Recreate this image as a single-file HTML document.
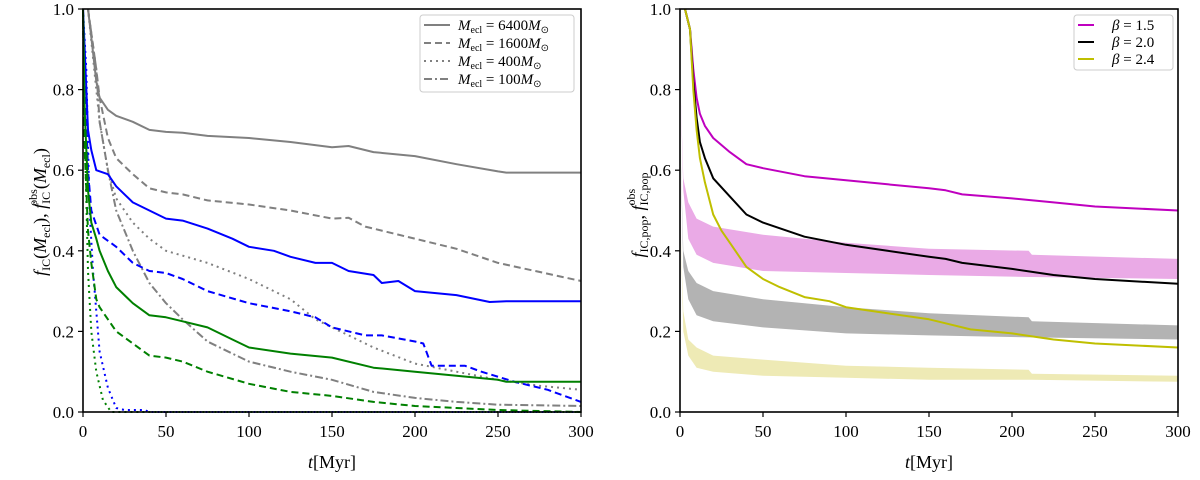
<!DOCTYPE html>
<html><head><meta charset="utf-8"><style>
html,body{margin:0;padding:0;background:#fff;}
svg{display:block;font-family:"Liberation Serif",serif;}
</style></head><body>
<svg id="chart" width="1200" height="480" viewBox="0 0 1200 480"></svg>
<script>
const NS="http://www.w3.org/2000/svg";
const svg=document.getElementById('chart');
// ---- left panel data ----
const tGraySolid=[3,5,8,10,15,20,30,40,50,60,75,100,125,150,160,175,200,225,250,255,300];
const yGraySolid=[1.0,0.93,0.82,0.78,0.75,0.735,0.72,0.70,0.695,0.693,0.685,0.68,0.67,0.657,0.66,0.645,0.635,0.615,0.597,0.594,0.594];
const tGrayDash=[3,8,10,15,20,30,40,50,60,75,100,125,150,160,170,200,225,250,300];
const yGrayDash=[1.0,0.85,0.78,0.68,0.63,0.59,0.555,0.545,0.54,0.525,0.515,0.5,0.48,0.482,0.46,0.43,0.405,0.37,0.325];
const tGrayDot=[3,8,10,15,20,30,40,50,75,100,125,140,160,175,200,225,250,275,300];
const yGrayDot=[1.0,0.8,0.72,0.6,0.53,0.47,0.43,0.40,0.37,0.33,0.28,0.23,0.19,0.16,0.12,0.10,0.08,0.065,0.055];
const tGrayDashDot=[3,8,10,15,20,30,40,50,60,75,90,100,125,150,175,200,225,250,300];
const yGrayDashDot=[1.0,0.85,0.72,0.6,0.5,0.4,0.32,0.27,0.23,0.175,0.145,0.125,0.1,0.08,0.05,0.035,0.025,0.018,0.015];
const tBlueSolid=[0,1,3,5,8,15,20,30,40,50,60,75,90,100,115,125,140,150,160,175,180,190,200,225,245,255,300];
const yBlueSolid=[1.0,0.9,0.7,0.65,0.6,0.59,0.56,0.52,0.5,0.48,0.475,0.455,0.43,0.41,0.4,0.385,0.37,0.37,0.35,0.34,0.32,0.325,0.3,0.29,0.273,0.275,0.275];
const tBlueDash=[0,1,3,5,10,20,30,40,50,60,75,100,125,140,150,170,180,200,205,210,230,240,260,280,290,300];
const yBlueDash=[1.0,0.85,0.6,0.5,0.44,0.41,0.37,0.35,0.345,0.33,0.3,0.27,0.25,0.235,0.21,0.19,0.19,0.175,0.17,0.115,0.115,0.1,0.075,0.055,0.04,0.025];
const tBlueDot=[0,2,4,6,8,10,15,20,25,37,40,300];
const yBlueDot=[1.0,0.85,0.5,0.35,0.25,0.15,0.06,0.01,0.005,0.005,0,0];
const tGreenSolid=[0,1,3,5,8,10,15,20,30,40,50,60,75,90,100,125,150,175,200,225,250,255,300];
const yGreenSolid=[1.0,0.75,0.55,0.47,0.43,0.4,0.35,0.31,0.27,0.24,0.235,0.225,0.21,0.18,0.16,0.145,0.135,0.11,0.1,0.09,0.08,0.075,0.075];
const tGreenDash=[0,1,3,5,8,10,15,20,30,40,50,60,75,100,125,150,175,200,225,250,300];
const yGreenDash=[1.0,0.65,0.45,0.37,0.28,0.26,0.23,0.2,0.17,0.14,0.135,0.125,0.1,0.07,0.05,0.04,0.025,0.015,0.01,0.005,0.0];
const tGreenDot=[0,1,3,5,8,12,17,300];
const yGreenDot=[1.0,0.7,0.35,0.2,0.1,0.03,0,0];
// ---- right panel data ----
const tMag=[3,6,8,10,12,15,20,30,40,50,75,100,125,150,160,170,200,225,250,300];
const yMag=[1.0,0.95,0.85,0.78,0.74,0.71,0.68,0.645,0.615,0.605,0.585,0.575,0.565,0.555,0.55,0.54,0.53,0.52,0.51,0.5];
const tBlack=[3,6,8,10,12,15,20,30,40,50,75,100,125,150,160,170,200,225,250,300];
const yBlack=[1.0,0.95,0.82,0.73,0.67,0.63,0.58,0.535,0.49,0.47,0.435,0.415,0.4,0.385,0.38,0.37,0.355,0.34,0.33,0.318];
const tYel=[3,6,8,10,12,15,20,25,30,40,50,60,75,90,100,125,150,160,175,200,225,250,300];
const yYel=[1.0,0.95,0.8,0.7,0.63,0.57,0.49,0.45,0.42,0.36,0.33,0.31,0.285,0.275,0.26,0.245,0.23,0.22,0.205,0.195,0.18,0.17,0.16];
const tBand=[0,2,5,10,20,50,100,150,210,212,300];
const magHi=[0.85,0.58,0.52,0.48,0.46,0.44,0.42,0.405,0.40,0.39,0.38];
const magLo=[0.85,0.55,0.43,0.39,0.37,0.35,0.345,0.34,0.335,0.335,0.33];
const grayHi=[0.7,0.40,0.35,0.32,0.30,0.28,0.26,0.245,0.235,0.225,0.215];
const grayLo=[0.7,0.36,0.28,0.24,0.225,0.21,0.195,0.19,0.185,0.185,0.18];
const yelHi=[0.5,0.25,0.18,0.16,0.14,0.13,0.115,0.11,0.105,0.095,0.09];
const yelLo=[0.5,0.20,0.14,0.11,0.10,0.09,0.085,0.08,0.08,0.08,0.075];
const xTicks=[0,50,100,150,200,250,300];
const yTicks=[0,0.2,0.4,0.6,0.8,1.0];

function mk(tag,attrs,parent){const e=document.createElementNS(NS,tag);for(const k in attrs)e.setAttribute(k,attrs[k]);(parent||svg).appendChild(e);return e;}
function axes(x0,x1,y0,y1){return {x:t=>x0+(x1-x0)*t/300,y:v=>y1-(y1-y0)*v,x0,x1,y0,y1};}
const L=axes(83,581,9,412), R=axes(680,1178,9,412);

function line(ax,ts,vs,color,dash,name,w){
  const d=ts.map((t,i)=>(i?'L':'M')+ax.x(t).toFixed(1)+' '+ax.y(vs[i]).toFixed(1)).join(' ');
  const p=mk('path',{d,fill:'none',stroke:color,'stroke-width':w||2,'stroke-dasharray':dash||'none','stroke-linejoin':'round'});
  
  
}
function band(ax,hi,lo,color,name){
  let d=tBand.map((t,i)=>(i?'L':'M')+ax.x(t).toFixed(1)+' '+ax.y(hi[i]).toFixed(1)).join(' ');
  for(let i=tBand.length-1;i>=0;i--)d+=' L'+ax.x(tBand[i]).toFixed(1)+' '+ax.y(lo[i]).toFixed(1);
  const p=mk('path',{d:d+' Z',fill:color,stroke:'none'});
  
  
}
function frame(ax,prefix){
  const g=mk('g',{});
  
  
  mk('rect',{x:ax.x0,y:ax.y0,width:ax.x1-ax.x0,height:ax.y1-ax.y0,fill:'none',stroke:'#000','stroke-width':1.6},g);
  xTicks.forEach(t=>{
    mk('line',{x1:ax.x(t),x2:ax.x(t),y1:ax.y1,y2:ax.y1+5,stroke:'#000','stroke-width':1.2},g);
    const tx=mk('text',{x:ax.x(t),y:ax.y1+25,'text-anchor':'middle','font-size':17},g);tx.textContent=t;
    
    
  });
  yTicks.forEach(v=>{
    mk('line',{x1:ax.x0-5,x2:ax.x0,y1:ax.y(v),y2:ax.y(v),stroke:'#000','stroke-width':1.2},g);
    const tx=mk('text',{x:ax.x0-9,y:ax.y(v)+6,'text-anchor':'end','font-size':17},g);tx.textContent=v.toFixed(1);
    
    
  });
  const xl=mk('text',{x:(ax.x0+ax.x1)/2,y:ax.y1+56,'text-anchor':'middle','font-size':18},g);
  xl.innerHTML='<tspan font-style="italic">t</tspan>[Myr]';
  
  
}
// left
line(L,tGraySolid,yGraySolid,'#808080','', 'gray-6400-line');
line(L,tGrayDash,yGrayDash,'#808080','7 4','gray-1600-line');
line(L,tGrayDot,yGrayDot,'#808080','2 4','gray-400-line');
line(L,tGrayDashDot,yGrayDashDot,'#808080','8 3 2 3','gray-100-line');
line(L,tBlueSolid,yBlueSolid,'#0000ff','','blue-solid-line');
line(L,tBlueDash,yBlueDash,'#0000ff','7 4','blue-dashed-line');
line(L,tBlueDot,yBlueDot,'#0000ff','2 4','blue-dotted-line');
line(L,tGreenSolid,yGreenSolid,'#008000','','green-solid-line');
line(L,tGreenDash,yGreenDash,'#008000','7 4','green-dashed-line');
line(L,tGreenDot,yGreenDot,'#008000','2 4','green-dotted-line');
frame(L,'left');
// right
band(R,magHi,magLo,'#eaaae6','magenta-band');
band(R,grayHi,grayLo,'#b3b3b3','gray-band');
band(R,yelHi,yelLo,'#eeeab5','yellow-band');
line(R,tMag,yMag,'#bf00bf','','beta-1.5-line');
line(R,tBlack,yBlack,'#000000','','beta-2.0-line');
line(R,tYel,yYel,'#bfbf00','','beta-2.4-line');
frame(R,'right');
</script>
<svg style="position:absolute;left:0;top:0" width="1200" height="480" font-family="Liberation Serif,serif">
  <g>
    <text transform="translate(46,212) rotate(-90)" text-anchor="middle" font-size="18"><tspan font-style="italic">f</tspan><tspan font-size="12" dy="4">IC</tspan><tspan dy="-4">(</tspan><tspan font-style="italic">M</tspan><tspan font-size="12" dy="4">ecl</tspan><tspan dy="-4">), </tspan><tspan font-style="italic">f</tspan><tspan font-size="12" dy="4">IC</tspan><tspan font-size="12" dy="-13" dx="-14">obs</tspan><tspan dy="9">(</tspan><tspan font-style="italic">M</tspan><tspan font-size="12" dy="4">ecl</tspan><tspan dy="-4">)</tspan></text>
  </g>
  <g>
    <text transform="translate(644,215) rotate(-90)" text-anchor="middle" font-size="18"><tspan font-style="italic">f</tspan><tspan font-size="12" dy="4">IC,pop</tspan><tspan dy="-4">, </tspan><tspan font-style="italic">f</tspan><tspan font-size="12" dy="4">IC,pop</tspan><tspan font-size="12" dy="-13" dx="-33">obs</tspan></text>
  </g>
  <g>
    <rect x="420" y="15" width="154" height="77" rx="3" fill="#fff" fill-opacity="0.8" stroke="#ccc"/>
    <g><line x1="424" x2="450" y1="25" y2="25" stroke="#808080" stroke-width="2"/><text x="458" y="30" font-size="15"><tspan font-style="italic">M</tspan><tspan font-size="10" dy="3">ecl</tspan><tspan dy="-3"> = 6400</tspan><tspan font-style="italic">M</tspan><tspan font-size="10" dy="3">⊙</tspan></text></g>
    <g><line x1="424" x2="450" y1="43" y2="43" stroke="#808080" stroke-width="2" stroke-dasharray="7 4"/><text x="458" y="48" font-size="15"><tspan font-style="italic">M</tspan><tspan font-size="10" dy="3">ecl</tspan><tspan dy="-3"> = 1600</tspan><tspan font-style="italic">M</tspan><tspan font-size="10" dy="3">⊙</tspan></text></g>
    <g><line x1="424" x2="450" y1="61" y2="61" stroke="#808080" stroke-width="2" stroke-dasharray="2 4"/><text x="458" y="66" font-size="15"><tspan font-style="italic">M</tspan><tspan font-size="10" dy="3">ecl</tspan><tspan dy="-3"> = 400</tspan><tspan font-style="italic">M</tspan><tspan font-size="10" dy="3">⊙</tspan></text></g>
    <g><line x1="424" x2="450" y1="79" y2="79" stroke="#808080" stroke-width="2" stroke-dasharray="8 3 2 3"/><text x="458" y="84" font-size="15"><tspan font-style="italic">M</tspan><tspan font-size="10" dy="3">ecl</tspan><tspan dy="-3"> = 100</tspan><tspan font-style="italic">M</tspan><tspan font-size="10" dy="3">⊙</tspan></text></g>
  </g>
  <g>
    <rect x="1074" y="15" width="99" height="55" rx="3" fill="#fff" fill-opacity="0.8" stroke="#ccc"/>
    <g><line x1="1078" x2="1094" y1="25" y2="25" stroke="#bf00bf" stroke-width="2"/><text x="1112" y="30" font-size="15"><tspan font-style="italic">β</tspan> = 1.5</text></g>
    <g><line x1="1078" x2="1094" y1="42" y2="42" stroke="#000" stroke-width="2"/><text x="1112" y="47" font-size="15"><tspan font-style="italic">β</tspan> = 2.0</text></g>
    <g><line x1="1078" x2="1094" y1="59" y2="59" stroke="#bfbf00" stroke-width="2"/><text x="1112" y="64" font-size="15"><tspan font-style="italic">β</tspan> = 2.4</text></g>
  </g>
</svg>
</body></html>
